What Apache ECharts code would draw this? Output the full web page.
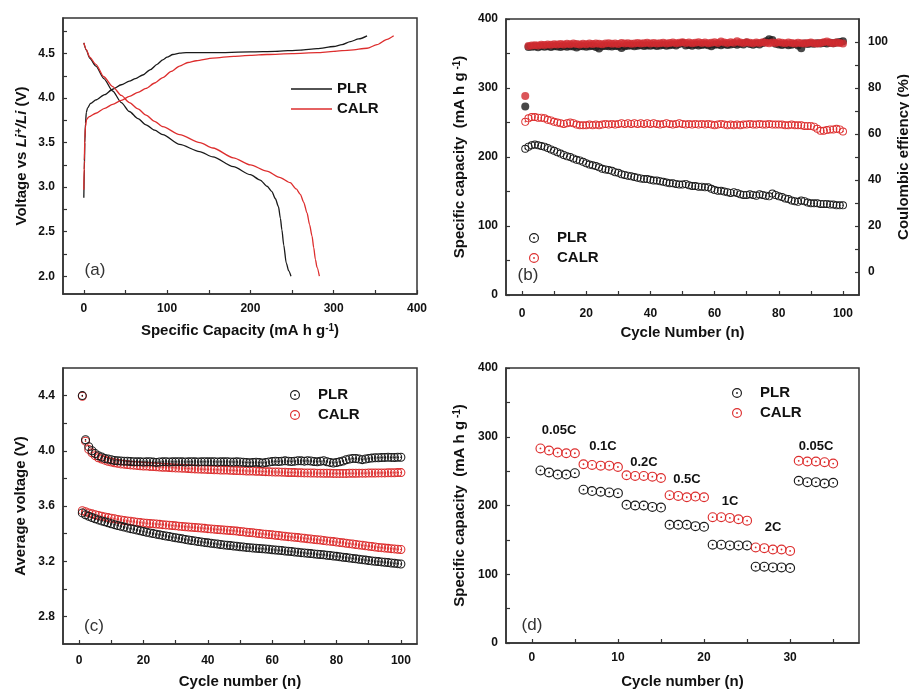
<!DOCTYPE html>
<html><head><meta charset="utf-8">
<script src="https://cdn.jsdelivr.net/npm/echarts@6/dist/echarts.min.js"></script>
<style>html,body{margin:0;padding:0;background:#fff}#c{width:909px;height:693px}</style>
</head><body><div id="c"></div>
<script>
const FONT = "'Liberation Sans', Arial, sans-serif";
const BLACK = '#1a1a1a';
const RED = '#dd2e2e';
const RED_FILL = '#d22a30';

// ---------- (a) charge/discharge profiles: [capacity, voltage]
const aXLabels = [0, 100, 200, 300, 400];
const aXTicks = [0, 50, 100, 150, 200, 250, 300, 350, 400];
const aYLabels = [2.0, 2.5, 3.0, 3.5, 4.0, 4.5];
const aYTicks = [2.0, 2.25, 2.5, 2.75, 3.0, 3.25, 3.5, 3.75, 4.0, 4.25, 4.5, 4.75];
const plrCharge = [[0,2.88],[0.6,3.2],[1.2,3.5],[2,3.72],[3,3.84],[4.5,3.89],[8,3.94],[14.5,3.98],[25,4.04],[34.6,4.10],[45,4.15],[54.7,4.19],[62,4.22],[70.7,4.26],[80,4.32],[88,4.38],[94.8,4.43],[100,4.46],[106.9,4.49],[115,4.505],[122.9,4.51],[155,4.51],[200,4.52],[230,4.525],[260,4.54],[280,4.555],[300,4.58],[310,4.6],[320,4.635],[330,4.665],[340,4.70]];
const calrCharge = [[0,2.97],[0.6,3.3],[1.2,3.55],[2,3.68],[3.3,3.76],[6,3.79],[14.5,3.83],[25,3.885],[34.6,3.93],[45,3.975],[54.7,4.02],[65,4.065],[74.7,4.11],[85,4.17],[94.8,4.23],[105,4.3],[114.9,4.36],[125,4.4],[135,4.42],[155,4.45],[180,4.47],[200,4.48],[220,4.49],[250,4.5],[280,4.51],[300,4.525],[320,4.54],[340,4.56],[352,4.6],[364,4.66],[372,4.70]];
const plrDischarge = [[0,4.62],[3,4.54],[7,4.45],[14.5,4.36],[24,4.22],[34.6,4.08],[45,3.95],[54.7,3.85],[65,3.77],[74.7,3.70],[85,3.64],[94.8,3.59],[115,3.48],[139,3.40],[155,3.34],[179.5,3.23],[200,3.14],[211.7,3.08],[220,3.01],[225.8,2.95],[230,2.87],[233.7,2.78],[236,2.65],[237.8,2.52],[240,2.35],[243,2.15],[246,2.06],[248.7,2.0]];
const calrDischarge = [[0,4.62],[3,4.545],[7,4.46],[14.5,4.38],[24,4.24],[34.6,4.13],[45,4.03],[54.7,3.95],[65,3.88],[74.7,3.81],[85,3.74],[94.8,3.68],[115,3.59],[139.4,3.50],[155,3.44],[179.5,3.33],[200,3.25],[219.7,3.18],[235,3.11],[247.8,3.05],[255,2.98],[259.9,2.92],[264,2.83],[268,2.71],[271,2.58],[274,2.45],[276,2.32],[278,2.19],[280,2.1],[282.8,2.0]];

// ---------- (b) cycling: capacity (mA h/g) and coulombic efficiency (%)
const cycXLabels = [0, 20, 40, 60, 80, 100];
const cycXTicks = [0, 10, 20, 30, 40, 50, 60, 70, 80, 90, 100];
const capLabels = [0, 100, 200, 300, 400];
const capTicks = [0, 50, 100, 150, 200, 250, 300, 350, 400];
const ceLabels = [0, 20, 40, 60, 80, 100];
const ceTicks = [0, 10, 20, 30, 40, 50, 60, 70, 80, 90, 100];
const plrCap = [212,215,217,218,217,216,215,213,211,209,207,205,203,201,200,198,196,195,193,191,189,188,187,185,183,182,181,180,178,177,175,174,173,172,171,170,169,168,168,167,166,166,165,164,163,162,162,161,160,160,161,159,158,158,157,157,156,156,154,152,151,151,150,149,148,149,148,146,145,145,146,145,144,146,145,144,143,147,145,143,142,140,139,137,136,135,137,136,134,133,133,133,132,132,132,131,131,130,130,130];
const calrCap = [251,256,258,258,257,257,256,254,253,251,250,249,248,249,250,249,247,246,246,246,247,246,247,246,247,248,247,248,247,248,249,248,249,248,249,248,249,248,249,248,249,248,247,248,249,248,247,248,249,248,247,248,247,248,247,248,247,248,247,246,247,248,247,246,247,246,247,246,247,247,248,247,247,248,247,247,248,247,247,247,247,246,246,247,246,246,246,245,245,245,244,241,238,238,239,240,240,241,240,237];
const plrCE = [72.0,97.8,97.9,98.0,97.7,98.1,97.9,98.2,97.8,98.1,98.0,97.8,98.1,97.9,98.2,98.0,97.6,98.1,98.2,97.9,98.1,98.3,97.8,97.2,98.1,98.3,98.2,98.0,98.3,98.1,97.4,98.2,98.4,98.5,98.2,98.4,98.6,98.3,98.5,98.4,98.6,98.3,98.5,98.7,98.4,98.6,98.8,98.5,99.1,99.6,98.5,98.7,98.4,98.8,98.5,98.7,98.9,98.6,98.2,98.8,98.9,98.6,99.0,98.7,98.9,99.1,98.8,99.2,98.9,99.8,99.1,98.8,99.2,98.9,99.6,100.3,101.2,100.9,99.2,98.9,98.7,99.0,98.6,98.8,99.1,98.5,97.3,99.3,99.1,99.4,99.2,99.5,99.3,99.6,99.4,99.7,99.5,99.8,100.0,100.3];
const calrCE = [76.5,98.3,98.5,98.6,98.5,98.8,98.7,98.9,98.8,99.0,98.9,99.1,98.9,99.2,99.0,99.3,99.1,98.9,99.2,99.0,99.3,99.1,99.4,99.2,99.0,99.3,99.5,99.2,99.4,99.1,99.6,99.3,99.5,99.2,99.4,99.6,99.3,99.5,99.7,99.4,99.6,99.3,99.5,99.7,99.4,99.6,99.8,99.5,99.7,99.9,99.6,99.8,99.5,99.7,99.9,99.6,99.8,99.5,99.7,99.9,99.6,100.2,99.8,99.6,99.9,99.7,100.3,99.8,99.6,99.9,99.7,99.5,99.8,99.6,99.9,99.7,99.5,99.8,99.6,99.9,99.7,99.5,99.8,99.6,99.4,99.7,99.5,99.3,99.6,99.8,99.5,99.3,99.6,99.9,100.2,99.7,99.5,99.8,99.6,99.4];

// ---------- (c) average charge (upper) / discharge (lower) voltage
const vLabels = [2.8, 3.2, 3.6, 4.0, 4.4];
const vTicks = [2.8, 3.0, 3.2, 3.4, 3.6, 3.8, 4.0, 4.2, 4.4];
const plrUpper = [4.40,4.08,4.03,4.00,3.98,3.965,3.955,3.945,3.94,3.935,3.93,3.928,3.926,3.925,3.924,3.922,3.921,3.92,3.92,3.919,3.92,3.921,3.918,3.916,3.919,3.92,3.921,3.919,3.92,3.92,3.921,3.92,3.919,3.92,3.921,3.92,3.919,3.92,3.921,3.92,3.92,3.921,3.919,3.92,3.92,3.921,3.919,3.918,3.92,3.919,3.917,3.915,3.913,3.915,3.917,3.915,3.912,3.915,3.919,3.922,3.924,3.922,3.925,3.927,3.925,3.922,3.925,3.928,3.927,3.925,3.928,3.926,3.922,3.92,3.924,3.928,3.921,3.916,3.912,3.915,3.92,3.926,3.935,3.94,3.945,3.944,3.94,3.936,3.94,3.945,3.947,3.949,3.95,3.951,3.952,3.953,3.952,3.951,3.953,3.953];
const calrUpper = [4.395,4.07,4.01,3.985,3.965,3.95,3.94,3.932,3.924,3.918,3.913,3.909,3.905,3.903,3.9,3.898,3.896,3.894,3.892,3.89,3.889,3.887,3.886,3.884,3.883,3.881,3.88,3.879,3.877,3.876,3.875,3.874,3.873,3.871,3.87,3.869,3.868,3.867,3.866,3.865,3.864,3.863,3.862,3.861,3.86,3.86,3.859,3.858,3.857,3.856,3.855,3.854,3.853,3.853,3.852,3.851,3.85,3.849,3.848,3.847,3.846,3.846,3.845,3.844,3.843,3.843,3.842,3.841,3.841,3.84,3.84,3.839,3.839,3.838,3.838,3.837,3.837,3.837,3.836,3.836,3.836,3.836,3.836,3.837,3.837,3.837,3.838,3.838,3.838,3.839,3.839,3.839,3.84,3.84,3.84,3.841,3.841,3.841,3.842,3.842];
const plrLower = [3.55,3.537,3.526,3.516,3.507,3.499,3.492,3.485,3.478,3.471,3.465,3.459,3.453,3.447,3.441,3.436,3.431,3.426,3.42,3.415,3.41,3.405,3.4,3.396,3.391,3.387,3.383,3.379,3.374,3.37,3.366,3.362,3.358,3.354,3.35,3.347,3.343,3.34,3.336,3.333,3.33,3.327,3.324,3.321,3.318,3.315,3.313,3.31,3.308,3.305,3.303,3.3,3.298,3.296,3.294,3.292,3.29,3.288,3.286,3.283,3.281,3.279,3.277,3.274,3.272,3.27,3.267,3.265,3.262,3.26,3.257,3.255,3.253,3.25,3.248,3.246,3.243,3.241,3.238,3.235,3.232,3.229,3.226,3.223,3.22,3.217,3.214,3.211,3.208,3.205,3.202,3.2,3.197,3.195,3.192,3.19,3.187,3.185,3.182,3.18];
const calrLower = [3.566,3.558,3.55,3.543,3.537,3.531,3.526,3.521,3.516,3.511,3.507,3.503,3.499,3.495,3.492,3.489,3.486,3.483,3.48,3.477,3.475,3.473,3.471,3.469,3.467,3.465,3.463,3.461,3.459,3.456,3.454,3.452,3.45,3.448,3.446,3.444,3.442,3.44,3.438,3.436,3.434,3.432,3.43,3.428,3.426,3.424,3.422,3.42,3.418,3.415,3.413,3.41,3.408,3.406,3.403,3.401,3.398,3.396,3.393,3.391,3.388,3.386,3.383,3.381,3.378,3.376,3.373,3.371,3.368,3.366,3.363,3.361,3.358,3.355,3.353,3.35,3.347,3.345,3.342,3.339,3.336,3.333,3.33,3.327,3.324,3.321,3.318,3.315,3.312,3.309,3.306,3.303,3.3,3.298,3.295,3.293,3.291,3.289,3.287,3.285];

// ---------- (d) rate capability
const rateXLabels = [0, 10, 20, 30];
const rateXTicks = [0, 5, 10, 15, 20, 25, 30, 35];
const plrRate = [251,248,245,245,247,223,221,220,219,218,201,200,200,198,197,172,172,172,170,169,143,143,142,142,142,111,111,110,110,109,236,234,234,232,233];
const calrRate = [283,280,277,276,276,260,259,258,258,256,244,243,243,242,240,215,214,212,213,212,183,183,182,180,178,139,138,136,136,134,265,264,264,263,261];
const rateNames = ['0.05C', '0.1C', '0.2C', '0.5C', '1C', '2C', '0.05C'];

const pairs = vals => vals.map((v, i) => [i + 1, v]);

const RING = 'path://M0,-10A10,10,0,1,1,0,10A10,10,0,1,1,0,-10ZM0,-7.7A7.7,7.7,0,1,0,0,7.7A7.7,7.7,0,1,0,0,-7.7ZM0,-1.8A1.8,1.8,0,1,1,0,1.8A1.8,1.8,0,1,1,0,-1.8Z';
const LINE_ICON = 'path://M0,0L40,0L40,1.4L0,1.4Z';

const base = {fontFamily: FONT, fontSize: 15, fontWeight: 'bold', color: '#111'};
const RICH = {
  it: Object.assign({}, base, {fontStyle: 'italic'}),
  sup: Object.assign({}, base, {fontSize: 10, verticalAlign: 'top'}),
  supi: Object.assign({}, base, {fontSize: 10, fontStyle: 'italic', verticalAlign: 'top'})
};

function axis(o) {
  return {
    type: 'value', gridIndex: o.grid, min: o.min, max: o.max, position: o.pos,
    name: o.name, nameLocation: 'middle', nameGap: o.gap, nameRotate: o.rot || 0,
    nameTextStyle: Object.assign({}, base, {rich: RICH}),
    axisLine: {show: true, onZero: false, lineStyle: {color: '#333', width: 1.5}},
    axisTick: {show: true, inside: true, length: 4, customValues: o.ticks, lineStyle: {color: '#333', width: 1.2}},
    axisLabel: {customValues: o.labels, margin: o.margin, fontFamily: FONT, fontSize: 12, fontWeight: 'bold', color: '#111', formatter: o.fmt},
    splitLine: {show: false}, minorTick: {show: false}
  };
}
const f1 = v => v.toFixed(1);
const fi = v => String(Math.round(v));

function grid(l, t, w, h) {
  return {left: l, top: t, width: w, height: h, show: true, borderColor: '#333', borderWidth: 1.5, backgroundColor: 'transparent', containLabel: false, outerBoundsMode: 'none'};
}

function ringSeries(name, xi, yi, data, color, size) {
  return {type: 'scatter', name: name, xAxisIndex: xi, yAxisIndex: yi, data: data, symbol: RING, symbolSize: size,
    itemStyle: {color: color, opacity: 1}, emphasis: {disabled: true}, animation: false};
}
function lineSeries(name, data, color) {
  return {type: 'line', name: name, xAxisIndex: 0, yAxisIndex: 0, data: data, symbol: 'none', showSymbol: false,
    smooth: 0.25, smoothMonotone: 'x', lineStyle: {color: color, width: 1.3}, itemStyle: {color: color}, animation: false};
}
const legendText = {fontFamily: FONT, fontSize: 15, fontWeight: 'bold', color: '#111', lineHeight: 20};
function legend(l, t, names, w, h) {
  return {left: l, top: t, orient: 'vertical', padding: 0, itemGap: 0, itemWidth: w, itemHeight: h,
    data: names, formatter: n => n.slice(2), selectedMode: false, textStyle: legendText};
}

const chart = echarts.init(document.getElementById('c'), null, {renderer: 'canvas'});
const option = {
  animation: false,
  backgroundColor: '#fff',
  grid: [grid(63, 18, 354, 276), grid(506, 19, 353, 276), grid(63, 368, 354, 276), grid(506, 368, 353, 275)],
  xAxis: [
    axis({grid: 0, min: -25, max: 400, labels: aXLabels, ticks: aXTicks, margin: 9, gap: 29, name: 'Specific Capacity (mA h g{sup|-1})', fmt: fi}),
    axis({grid: 1, min: -5, max: 105, labels: cycXLabels, ticks: cycXTicks, margin: 13, gap: 30, name: 'Cycle Number (n)', fmt: fi}),
    axis({grid: 2, min: -5, max: 105, labels: cycXLabels, ticks: cycXTicks, margin: 11, gap: 30, name: 'Cycle number (n)', fmt: fi}),
    axis({grid: 3, min: -3, max: 38, labels: rateXLabels, ticks: rateXTicks, margin: 9, gap: 31, name: 'Cycle number (n)', fmt: fi})
  ],
  yAxis: [
    axis({grid: 0, min: 1.8, max: 4.9, labels: aYLabels, ticks: aYTicks, margin: 8, gap: 34, rot: 90, name: 'Voltage vs {it|Li}{supi|+}{it|/Li} (V)', fmt: f1}),
    axis({grid: 1, min: 0, max: 400, labels: capLabels, ticks: capTicks, margin: 8, gap: 39, rot: 90, name: 'Specific capacity  (mA h g{sup| -1})', fmt: fi}),
    axis({grid: 1, min: -10, max: 110, pos: 'right', labels: ceLabels, ticks: ceTicks, margin: 9, gap: 37, rot: 90, name: 'Coulombic effiency (%)', fmt: fi}),
    axis({grid: 2, min: 2.6, max: 4.6, labels: vLabels, ticks: vTicks, margin: 8, gap: 35, rot: 90, name: 'Average voltage (V)', fmt: f1}),
    axis({grid: 3, min: 0, max: 400, labels: capLabels, ticks: capTicks, margin: 8, gap: 39, rot: 90, name: 'Specific capacity  (mA h g{sup| -1})', fmt: fi})
  ],
  legend: [
    legend(291, 79, [{name: 'a-PLR', icon: LINE_ICON}, {name: 'a-CALR', icon: LINE_ICON}], 41, 14),
    legend(529, 228, ['b-PLR', 'b-CALR'], 36, 10),
    legend(290, 385, ['c-PLR', 'c-CALR'], 36, 10),
    legend(732, 383, ['d-PLR', 'd-CALR'], 36, 10)
  ],
  series: [
    lineSeries('a-PLR', plrCharge, BLACK),
    lineSeries('a-PLR', plrDischarge, BLACK),
    lineSeries('a-CALR', calrCharge, RED),
    lineSeries('a-CALR', calrDischarge, RED),
    {type: 'scatter', name: 'ce-PLR', xAxisIndex: 1, yAxisIndex: 2, data: pairs(plrCE), symbol: 'circle', symbolSize: 8, itemStyle: {color: BLACK}, animation: false},
    {type: 'scatter', name: 'ce-CALR', xAxisIndex: 1, yAxisIndex: 2, data: pairs(calrCE), symbol: 'circle', symbolSize: 8, itemStyle: {color: RED_FILL}, animation: false},
    ringSeries('b-PLR', 1, 1, pairs(plrCap), BLACK, 8),
    ringSeries('b-CALR', 1, 1, pairs(calrCap), RED, 8),
    ringSeries('c-CALR', 2, 3, pairs(calrUpper), RED, 9),
    ringSeries('c-CALR', 2, 3, pairs(calrLower), RED, 9),
    ringSeries('c-PLR', 2, 3, pairs(plrUpper), BLACK, 9),
    ringSeries('c-PLR', 2, 3, pairs(plrLower), BLACK, 9),
    ringSeries('d-PLR', 3, 4, pairs(plrRate), BLACK, 10),
    ringSeries('d-CALR', 3, 4, pairs(calrRate), RED, 10)
  ],
  graphic: []
};

const panelTags = [['(a)', 95, 270], ['(b)', 528, 275], ['(c)', 94, 626], ['(d)', 532, 625]];
panelTags.forEach(p => option.graphic.push({type: 'text', x: p[1], y: p[2], silent: true,
  style: {text: p[0], fill: '#333', font: '17px ' + FONT, textAlign: 'center', textVerticalAlign: 'middle', verticalAlign: 'middle'}}));
const ratePos = [[559, 430], [603, 446], [644, 462], [687, 479], [730, 501], [773, 527], [816, 446]];
rateNames.forEach((t, i) => option.graphic.push({type: 'text', x: ratePos[i][0], y: ratePos[i][1], silent: true,
  style: {text: t, fill: '#111', font: 'bold 13px ' + FONT, textAlign: 'center', textVerticalAlign: 'middle', verticalAlign: 'middle'}}));

chart.setOption(option);
</script></body></html>
